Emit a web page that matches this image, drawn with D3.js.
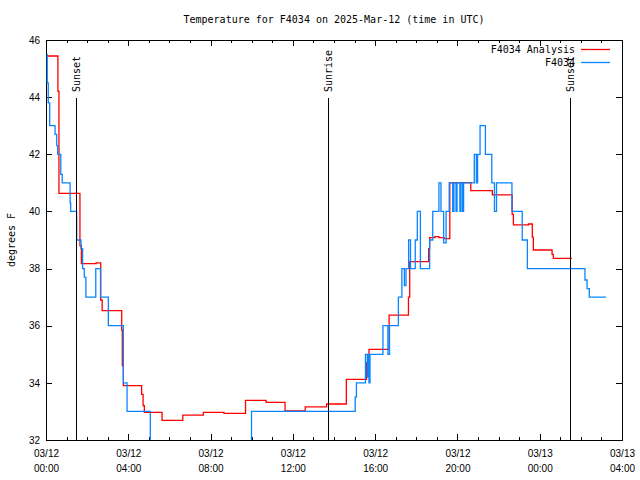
<!DOCTYPE html>
<html>
<head>
<meta charset="utf-8">
<script src="https://cdn.jsdelivr.net/npm/d3@7"></script>
<style>
  html, body { margin: 0; padding: 0; background: #fff; }
  svg { display: block; font-family: "DejaVu Sans Mono", "Liberation Mono", monospace; font-size: 10px; }
</style>
</head>
<body>
<svg id="chart" width="640" height="480"></svg>
<script>
// ---------------- DATA ----------------
const chartTitle = "Temperature for F4034 on 2025-Mar-12 (time in UTC)";
const yAxisLabel = "degrees F";
const seriesNames = ["F4034 Analysis", "F4034"];
const seriesColors = ["#ff0000", "#0a84ff"];

// hours after 2025-03-12 00:00 UTC, step values (held until next point)
const analysisHours = [0.06, 0.58, 0.63, 1.65, 1.72, 2.43, 2.66, 2.73, 3.68, 3.71, 3.76, 4.65, 4.72, 4.78,
  5.64, 6.65, 7.65, 8.65, 9.70, 10.70, 11.62, 12.60, 13.64, 14.60, 15.58, 15.70, 16.68, 17.62, 17.68,
  18.60, 18.65, 18.90, 19.10, 19.35, 19.63, 20.65, 21.70, 22.66, 22.72, 23.45, 23.64, 23.69, 24.60, 24.66, 25.56];
const analysisTemps = [45.44, 44.2, 40.63, 38.8, 38.17, 38.2, 36.9, 36.53, 35.85, 34.6, 33.9, 33.6, 33.2, 32.97,
  32.69, 32.87, 32.97, 32.93, 33.39, 33.32, 33.02, 33.16, 33.26, 34.12, 34.7, 35.17, 36.37, 37.0, 38.24,
  38.7, 39.08, 39.12, 39.08, 39.05, 41.01, 40.73, 40.58, 39.9, 39.53, 39.56, 39.1, 38.65, 38.5, 38.36, 38.36];

const obsHours = [0.03, 0.06, 0.11, 0.18, 0.44, 0.52, 0.57, 0.72, 0.79, 1.17, 1.20, 1.49, 1.70, 1.78, 1.86, 1.94,
  2.42, 2.65, 3.03, 3.76, 3.94, 5.07, 9.99, 15.03, 15.09, 15.53, 15.62, 15.66, 15.70, 15.75, 16.38, 16.62, 16.70,
  17.13, 17.30, 17.42, 17.50, 17.63, 17.72, 17.95, 18.05, 18.20, 18.65, 18.80, 19.10, 19.20, 19.33, 19.45,
  19.60, 19.77, 19.83, 19.93, 19.98, 20.12, 20.17, 20.25, 20.30, 20.82, 20.92,
  20.98, 21.10, 21.36, 21.67, 21.80, 21.90, 22.65, 23.15, 23.40, 26.20, 26.30, 26.41, 27.22];
const obsTemps = [45.5, 44.5, 43.8, 43.0, 42.7, 42.3, 42.0, 41.3, 41.0, 40.3, 40.0, 39.0, 38.7, 38.0, 37.7, 37.0,
  38.0, 37.0, 36.0, 34.0, 33.0, 31.5, 33.0, 33.5, 34.0, 35.0, 34.2, 35.0, 34.0, 35.0, 36.0, 35.0, 36.0,
  37.0, 38.0, 37.4, 38.0, 39.0, 38.0, 39.0, 40.0, 38.0, 39.0, 40.0, 41.0, 40.0, 38.9, 40.0,
  41.0, 40.0, 41.0, 40.0, 41.0, 40.0, 41.0, 40.0, 41.0, 42.0, 41.0,
  42.0, 43.0, 42.0, 41.0, 40.0, 41.0, 40.0, 39.0, 38.0, 37.6, 37.3, 37.0, 37.0];

const sunEventHours = [1.48, 13.73, 25.45];
const sunEventLabels = ["Sunset", "Sunrise", "Sunset"];

const yTickValues = [32, 34, 36, 38, 40, 42, 44, 46];
const xMajorTickHours = [0, 4, 8, 12, 16, 20, 24, 28];
const xDomainHours = [0, 28];
const yDomain = [32, 46];

// ---------------- CHART ----------------
const dayStart = Date.UTC(2025, 2, 12);
const toDate = h => new Date(dayStart + h * 3600e3);

const svg = d3.select("#chart");
const M = { left: 46, right: 622, top: 40, bottom: 440 };

const x = d3.scaleUtc().domain(xDomainHours.map(toDate)).range([M.left, M.right]);
const y = d3.scaleLinear().domain(yDomain).range([M.bottom, M.top]);

svg.append("defs").append("clipPath").attr("id", "plotclip")
  .append("rect").attr("x", M.left).attr("y", M.top)
  .attr("width", M.right - M.left).attr("height", M.bottom - M.top);

// minor x ticks (hourly)
const minorHours = d3.range(xDomainHours[0], xDomainHours[1] + 1).filter(h => h % 4 !== 0).map(toDate);
svg.append("g").attr("transform", `translate(0,${M.bottom})`)
  .call(d3.axisBottom(x).tickValues(minorHours).tickSize(-3).tickFormat(""))
  .call(g => g.select(".domain").remove());
svg.append("g").attr("transform", `translate(0,${M.top})`)
  .call(d3.axisTop(x).tickValues(minorHours).tickSize(-3).tickFormat(""))
  .call(g => g.select(".domain").remove());

// major x axis
const fmtDate = d3.utcFormat("%m/%d");
const fmtTime = d3.utcFormat("%H:%M");
const xAxisG = svg.append("g").attr("transform", `translate(0,${M.bottom})`)
  .call(d3.axisBottom(x).tickValues(xMajorTickHours.map(toDate)).tickSize(-6).tickPadding(8).tickFormat(""));
xAxisG.select(".domain").remove();
xAxisG.selectAll(".tick").each(function(d) {
  const t = d3.select(this).select("text")
    .attr("font-family", null).attr("font-size", null).attr("fill", "#000");
  t.append("tspan").attr("x", 0).attr("y", 0).attr("dy", "16.5px").text(fmtDate(d));
  t.append("tspan").attr("x", 0).attr("y", 0).attr("dy", "31.5px").text(fmtTime(d));
});
svg.append("g").attr("transform", `translate(0,${M.top})`)
  .call(d3.axisTop(x).tickValues(xMajorTickHours.map(toDate)).tickSize(-6).tickFormat(""))
  .call(g => g.select(".domain").remove());

// y axes
const yAxisG = svg.append("g").attr("transform", `translate(${M.left},0)`)
  .call(d3.axisLeft(y).tickValues(yTickValues).tickSize(-6).tickPadding(6).tickFormat(d3.format("d")));
yAxisG.select(".domain").remove();
yAxisG.selectAll("text").attr("font-family", null).attr("font-size", null).attr("fill", "#000");
svg.append("g").attr("transform", `translate(${M.right},0)`)
  .call(d3.axisRight(y).tickValues(yTickValues).tickSize(-6).tickFormat(""))
  .call(g => g.select(".domain").remove());

svg.selectAll(".tick line").attr("stroke", "#000").attr("shape-rendering", "crispEdges");

// border
svg.append("rect").attr("x", M.left).attr("y", M.top)
  .attr("width", M.right - M.left).attr("height", M.bottom - M.top)
  .attr("fill", "none").attr("stroke", "#000").attr("stroke-width", 1)
  .attr("shape-rendering", "crispEdges");

// series
const lineGen = d3.line().curve(d3.curveStepAfter).x(d => x(toDate(d[0]))).y(d => y(d[1]));
const series = [
  d3.zip(analysisHours, analysisTemps),
  d3.zip(obsHours, obsTemps)
];
const plotG = svg.append("g").attr("clip-path", "url(#plotclip)");
series.forEach((s, i) => {
  plotG.append("path").datum(s)
    .attr("d", lineGen)
    .attr("fill", "none")
    .attr("stroke", seriesColors[i])
    .attr("stroke-width", 1.3);
});

// sun events
sunEventHours.forEach((h, i) => {
  const xp = Math.round(x(toDate(h))) + 0.5;
  svg.append("line").attr("x1", xp).attr("x2", xp).attr("y1", 98).attr("y2", M.bottom)
    .attr("stroke", "#000").attr("stroke-width", 1);
  svg.append("text")
    .attr("transform", `translate(${xp + 3.5},92) rotate(-90)`)
    .attr("text-anchor", "start")
    .text(sunEventLabels[i]);
});

// title
svg.append("text").attr("x", (M.left + M.right) / 2).attr("y", 23)
  .attr("text-anchor", "middle").text(chartTitle);

// y label
svg.append("text").attr("transform", `translate(15,${(M.top + M.bottom) / 2}) rotate(-90)`)
  .attr("text-anchor", "middle").text(yAxisLabel);

// legend
seriesNames.forEach((name, i) => {
  const ly = 49.5 + i * 13;
  svg.append("text").attr("x", 575).attr("y", ly + 3.5).attr("text-anchor", "end").text(name);
  svg.append("line").attr("x1", 581).attr("x2", 610).attr("y1", ly).attr("y2", ly)
    .attr("stroke", seriesColors[i]).attr("stroke-width", 1.3);
});
</script>
</body>
</html>
